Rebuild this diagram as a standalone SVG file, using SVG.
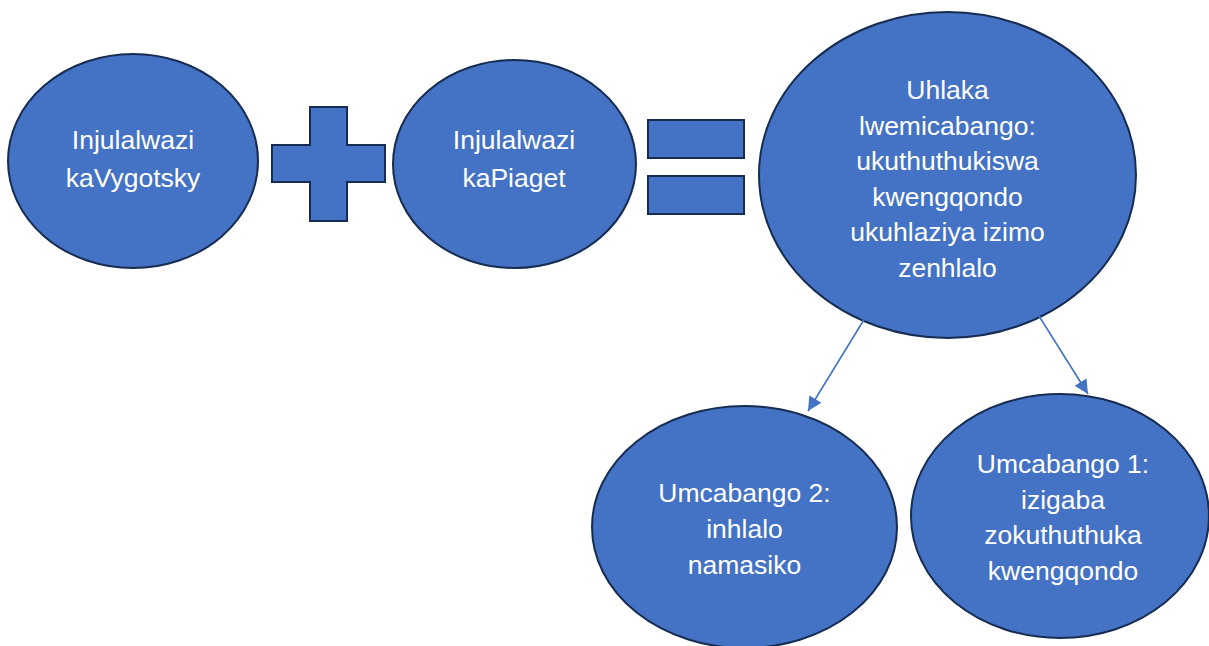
<svg xmlns="http://www.w3.org/2000/svg" width="1209" height="646" viewBox="0 0 1209 646">
<defs>
<style>
.shape{fill:#4472C4;stroke:#172C51;stroke-width:2}
.lbl{fill:#FFFFFF;font-family:"Liberation Sans",Arial,sans-serif;font-size:26.5px;text-anchor:middle}
.conn{stroke:#4472C4;stroke-width:1.6;fill:none}
</style>
<marker id="ah" viewBox="0 0 10 10" refX="10" refY="5" markerWidth="15" markerHeight="14" markerUnits="userSpaceOnUse" orient="auto">
<path d="M0,0 L10,5 L0,10 z" fill="#4472C4"/>
</marker>
</defs>
<rect width="1209" height="646" fill="#FFFFFF"/>
<g id="vygotsky">
<ellipse class="shape" cx="133" cy="161" rx="125" ry="107"/>
<text class="lbl" x="133" y="149">Injulalwazi</text>
<text class="lbl" x="133" y="187">kaVygotsky</text>
</g>
<g id="plus">
<polygon class="shape" points="310,107 347,107 347,145 385,145 385,182 347,182 347,221 310,221 310,182 272,182 272,145 310,145"/>
</g>
<g id="piaget">
<ellipse class="shape" cx="514.5" cy="164" rx="121.5" ry="104"/>
<text class="lbl" x="514" y="149">Injulalwazi</text>
<text class="lbl" x="514" y="187">kaPiaget</text>
</g>
<g id="equals">
<rect class="shape" x="648" y="120" width="96" height="38"/>
<rect class="shape" x="648" y="176" width="96" height="38"/>
</g>
<g id="framework">
<ellipse class="shape" cx="947.5" cy="175" rx="188.5" ry="163"/>
<text class="lbl" x="947.5" y="99">Uhlaka</text>
<text class="lbl" x="947.5" y="134.6">lwemicabango:</text>
<text class="lbl" x="947.5" y="170.2">ukuthuthukiswa</text>
<text class="lbl" x="947.5" y="205.8">kwengqondo</text>
<text class="lbl" x="947.5" y="241.4">ukuhlaziya izimo</text>
<text class="lbl" x="947.5" y="277">zenhlalo</text>
</g>
<g id="connectors">
<line class="conn" x1="865" y1="318" x2="808" y2="411" marker-end="url(#ah)"/>
<line class="conn" x1="1039" y1="316" x2="1088" y2="394" marker-end="url(#ah)"/>
</g>
<g id="idea2">
<ellipse class="shape" cx="744.5" cy="527" rx="152.5" ry="121"/>
<text class="lbl" x="744.5" y="502">Umcabango 2:</text>
<text class="lbl" x="744.5" y="538">inhlalo</text>
<text class="lbl" x="744.5" y="574">namasiko</text>
</g>
<g id="idea1">
<ellipse class="shape" cx="1060" cy="516" rx="149" ry="122"/>
<text class="lbl" x="1063" y="473">Umcabango 1:</text>
<text class="lbl" x="1063" y="508.5">izigaba</text>
<text class="lbl" x="1063" y="544">zokuthuthuka</text>
<text class="lbl" x="1063" y="579.5">kwengqondo</text>
</g>
</svg>
